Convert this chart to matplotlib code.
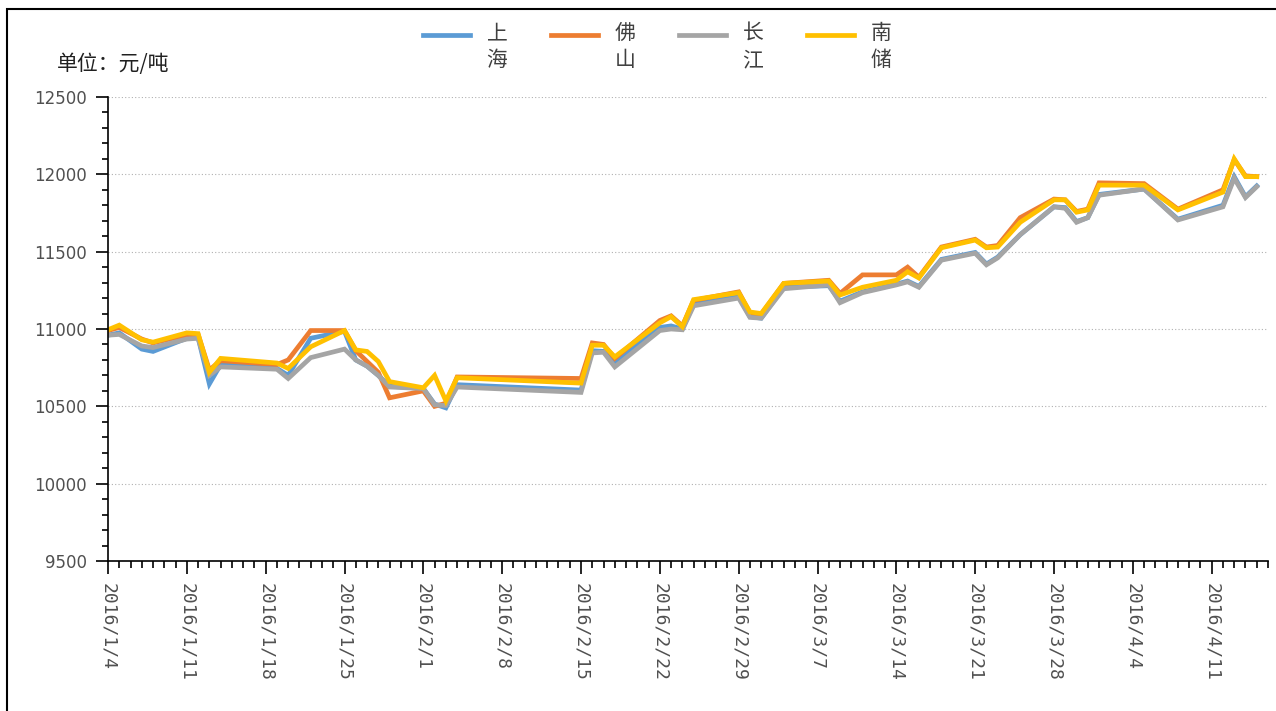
import datetime as dt
import matplotlib
matplotlib.use("Agg")
import matplotlib.pyplot as plt
import matplotlib.dates as mdates
from matplotlib.ticker import MultipleLocator, FuncFormatter
from matplotlib.patches import Rectangle
from matplotlib.lines import Line2D

plt.rcParams['font.family'] = ['Noto Sans CJK SC', 'DejaVu Sans']

# data, price in yuan/ton
dates = ["2016-01-04", "2016-01-05", "2016-01-07", "2016-01-08", "2016-01-11",
         "2016-01-12", "2016-01-13", "2016-01-14", "2016-01-19", "2016-01-20",
         "2016-01-22", "2016-01-25", "2016-01-26", "2016-01-27", "2016-01-28",
         "2016-01-29", "2016-02-01", "2016-02-02", "2016-02-03", "2016-02-04",
         "2016-02-15", "2016-02-16", "2016-02-17", "2016-02-18", "2016-02-22",
         "2016-02-23", "2016-02-24", "2016-02-25", "2016-02-29", "2016-03-01",
         "2016-03-02", "2016-03-04", "2016-03-08", "2016-03-09", "2016-03-11",
         "2016-03-14", "2016-03-15", "2016-03-16", "2016-03-18", "2016-03-21",
         "2016-03-22", "2016-03-23", "2016-03-25", "2016-03-28", "2016-03-29",
         "2016-03-30", "2016-03-31", "2016-04-01", "2016-04-05", "2016-04-08",
         "2016-04-12", "2016-04-13", "2016-04-14", "2016-04-15"]

shanghai = [10960, 10975, 10870, 10855, 10940, 10945, 10645, 10770, 10745, 10700,
            10940, 10985, 10800, 10760, 10700, 10630, 10615, 10515, 10490, 10640,
            10605, 10860, 10855, 10785, 11010, 11020, 11000, 11160, 11210, 11080,
            11070, 11270, 11280, 11180, 11240, 11290, 11310, 11275, 11450, 11495,
            11420, 11465, 11610, 11790, 11785, 11695, 11720, 11870, 11905, 11710,
            11800, 11985, 11855, 11925]
foshan = [10990, 11010, 10935, 10910, 10960, 10965, 10735, 10795, 10770, 10800,
          10990, 10990, 10860, 10790, 10720, 10555, 10600, 10500, 10520, 10690,
          10680, 10910, 10900, 10810, 11055, 11085, 11020, 11185, 11240, 11105,
          11095, 11295, 11315, 11230, 11350, 11350, 11400, 11335, 11530, 11580,
          11530, 11540, 11720, 11840, 11835, 11760, 11775, 11945, 11940, 11775,
          11900, 12095, 11990, 11985]
changjiang = [10960, 10965, 10890, 10880, 10935, 10940, 10700, 10755, 10740, 10680,
              10815, 10870, 10800, 10760, 10700, 10625, 10615, 10510, 10505, 10625,
              10590, 10845, 10850, 10755, 10990, 11000, 10995, 11150, 11200, 11075,
              11070, 11260, 11285, 11170, 11235, 11285, 11305, 11270, 11445, 11490,
              11415, 11460, 11610, 11790, 11780, 11690, 11720, 11865, 11905, 11705,
              11790, 11975, 11850, 11920]
nanchu = [10995, 11025, 10930, 10915, 10975, 10970, 10720, 10810, 10780, 10745,
          10885, 10990, 10865, 10855, 10790, 10660, 10620, 10700, 10535, 10685,
          10650, 10895, 10895, 10820, 11040, 11080, 11015, 11190, 11235, 11110,
          11100, 11295, 11310, 11220, 11270, 11315, 11370, 11330, 11525, 11575,
          11525, 11530, 11690, 11835, 11835, 11755, 11770, 11930, 11930, 11770,
          11885, 12100, 11985, 11985]

series_names = ["上海", "佛山", "长江", "南储"]
series_colors = ["#5B9BD5", "#ED7D31", "#A5A5A5", "#FFC000"]

x = [dt.datetime.strptime(d, "%Y-%m-%d") for d in dates]

W, H = 1276, 711
fig = plt.figure(figsize=(12.76, 7.11), dpi=100)
ax = fig.add_axes([108 / W, 150 / H, 1160 / W, 464 / H])

for vals, col in zip([shanghai, foshan, changjiang, nanchu], series_colors):
    ax.plot(x, vals, color=col, lw=3.4, solid_joinstyle='miter')

ax.set_ylim(9500, 12500)
ax.set_xlim(dt.datetime(2016, 1, 4), dt.datetime(2016, 4, 16))

ax.yaxis.set_major_locator(MultipleLocator(500))
ax.yaxis.set_minor_locator(MultipleLocator(100))
ax.xaxis.set_major_locator(mdates.WeekdayLocator(byweekday=mdates.MO))
ax.xaxis.set_minor_locator(mdates.DayLocator())
ax.xaxis.set_major_formatter(FuncFormatter(
    lambda v, p: "{0.year}/{0.month}/{0.day}".format(mdates.num2date(v))))

ax.grid(axis='y', which='major', color='#b0b0b0', linestyle=(0, (1, 2)), lw=0.8)
ax.set_axisbelow(True)

for s in ['top', 'right']:
    ax.spines[s].set_visible(False)
for s in ['left', 'bottom']:
    ax.spines[s].set_color('black')
    ax.spines[s].set_linewidth(1.2)

ax.tick_params(axis='y', which='major', length=9, width=1.2, color='black', pad=6)
ax.tick_params(axis='y', which='minor', length=4, width=1.2, color='black')
ax.tick_params(axis='x', which='major', length=9, width=1.2, color='black', pad=7)
ax.tick_params(axis='x', which='minor', length=5, width=1.2, color='black')

for lab in ax.get_yticklabels():
    lab.set_family(['Liberation Sans Narrow', 'DejaVu Sans'])
    lab.set_fontsize(12)
    lab.set_color('#505050')
for lab in ax.get_xticklabels():
    lab.set_family(['DejaVu Sans Mono'])
    lab.set_fontsize(13)
    lab.set_color('#505050')
    lab.set_rotation(270)
    lab.set_va('top')
    lab.set_ha('center')

fig.text(57 / W, 1 - 64 / H, "单位：元/吨", fontsize=15, color='#202020',
         ha='left', va='center')

# legend: short line + name written top to bottom
for i, (name, col) in enumerate(zip(series_names, series_colors)):
    x0 = 423 + 128 * i
    fig.add_artist(Line2D([x0 / W, (x0 + 47) / W], [1 - 35 / H, 1 - 35 / H],
                          transform=fig.transFigure, color=col, lw=3.4))
    for j, ch in enumerate(name):
        fig.text((x0 + 74) / W, 1 - (33 + 27 * j) / H, ch, fontsize=15,
                 color='#404040', ha='center', va='center')

# outer chart border
fig.add_artist(Rectangle((7 / W, -0.1), 1.2, 1.1 - 9 / H, transform=fig.transFigure,
                         fill=False, edgecolor='black', lw=1.5, clip_on=False))

fig.savefig("out.png", dpi=100)
